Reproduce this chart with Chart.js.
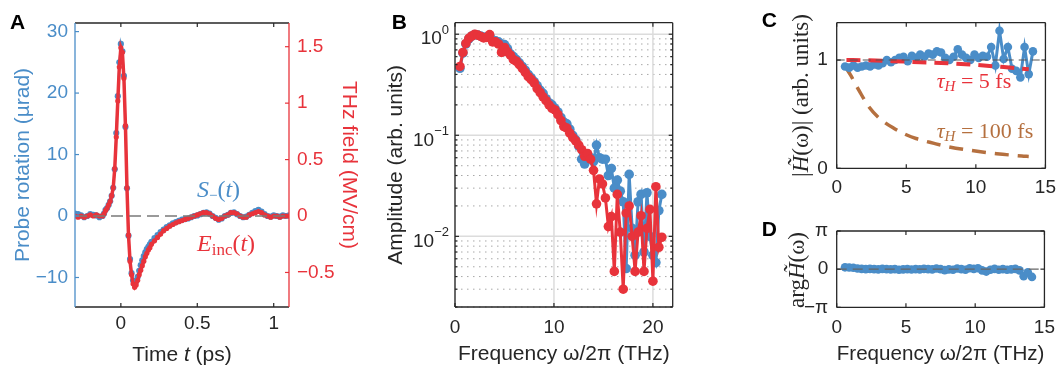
<!DOCTYPE html>
<html>
<head>
<meta charset="utf-8">
<title>THz probe response</title>
<script src="https://cdn.jsdelivr.net/npm/chart.js"></script>
<style>
body{
  margin:0;
  background:#fff;
  width:1064px;
  height:367px;
  overflow:hidden;
  position:relative;
}
canvas{position:absolute;}
</style>
</head>
<body>

<canvas id="chartA" width="372" height="367" style="left:0;top:0"></canvas>
<canvas id="chartB" width="318" height="367" style="left:372px;top:0"></canvas>
<canvas id="chartC" width="374" height="200" style="left:690px;top:0"></canvas>
<canvas id="chartD" width="374" height="167" style="left:690px;top:200px"></canvas>

<script>

// ================= DATA =================
// panel A: time trace
const timePs = [
  -0.30,-0.28,-0.26,-0.24,-0.22,-0.20,-0.18,-0.16,-0.14,
  -0.12,-0.11,-0.10,-0.09,-0.08,-0.07,-0.06,-0.05,-0.04,-0.03,-0.02,-0.01,
  0.00,0.01,0.02,0.03,0.04,0.05,0.06,0.07,0.08,0.09,0.10,
  0.11,0.12,0.13,0.14,0.15,0.16,0.17,0.18,0.19,0.20,
  0.22,0.24,0.26,0.28,0.30,0.32,0.34,0.36,0.38,0.40,
  0.42,0.44,0.46,0.48,0.50,0.52,0.54,0.56,0.58,0.60,
  0.62,0.64,0.66,0.68,0.70,0.72,0.74,0.76,0.78,0.80,
  0.82,0.84,0.86,0.88,0.90,0.92,0.94,0.96,0.98,1.00,
  1.02,1.04,1.06,1.08,1.10
];
const probeRotation = [   // µrad
  0.4,0.3,0.1,-0.2,0.0,0.3,0.2,0.1,-0.2,
  0.0,0.4,1.0,1.3,1.8,2.4,3.3,4.6,7.6,13.5,19.5,25.0,
  28.0,26.8,22.8,14.5,4.5,-3.2,-7.0,-9.3,-10.5,-11.0,-10.6,
  -9.9,-8.9,-8.0,-7.2,-6.5,-5.9,-5.4,-5.0,-4.6,-4.2,
  -3.6,-3.1,-2.6,-2.2,-1.8,-1.5,-1.2,-1.0,-0.8,-0.6,
  -0.5,-0.4,-0.2,0.0,0.1,0.3,0.5,0.6,0.4,0.0,
  -0.3,-0.6,-0.4,0.0,0.2,0.5,0.6,0.3,0.0,-0.2,
  -0.1,0.2,0.5,0.8,1.0,0.7,0.3,0.0,-0.1,0.1,
  0.0,-0.1,0.1,0.0,0.1
];
const thzField = [        // MV/cm
  0.0,-0.01,0.0,-0.01,0.0,0.01,0.0,0.01,0.0,
  0.0,0.02,0.05,0.07,0.10,0.13,0.18,0.25,0.42,0.70,1.02,1.32,
  1.49,1.45,1.22,0.80,0.25,-0.17,-0.40,-0.52,-0.60,-0.63,-0.61,
  -0.57,-0.52,-0.48,-0.44,-0.40,-0.36,-0.33,-0.30,-0.28,-0.25,
  -0.22,-0.19,-0.16,-0.13,-0.11,-0.09,-0.075,-0.06,-0.05,-0.04,
  -0.03,-0.02,-0.01,0.0,0.01,0.02,0.03,0.03,0.02,0.0,
  -0.02,-0.03,-0.02,0.0,0.01,0.03,0.03,0.02,0.0,-0.01,
  -0.01,0.01,0.02,0.03,0.04,0.03,0.01,0.0,-0.01,0.0,
  0.0,-0.01,0.0,0.0,0.0
];
const timeTicks = [0, 0.5, 1];
const rotationTicks = [-10, 0, 10, 20, 30];
const fieldTicks = [-0.5, 0, 0.5, 1, 1.5];

// panel B: spectra
const freqB = [
  0.5,0.8,1.1,1.4,1.7,2.0,2.3,2.6,2.9,3.2,
  3.5,3.8,4.1,4.4,4.7,5.0,5.3,5.6,5.9,6.2,
  6.5,6.8,7.1,7.4,7.7,8.0,8.3,8.6,8.9,9.2,
  9.5,9.8,10.1,10.4,10.7,11.0,11.3,11.6,11.9,12.2,
  12.5,12.8,13.1,13.4,13.7,14.0,14.3,14.6,14.9,15.2,
  15.5,15.8,16.1,16.4,16.7,17.0,17.3,17.6,17.9,18.2,
  18.5,18.8,19.1,19.4,19.7,20.0,20.3,20.6,20.9
];
const ampField = [
  0.48,0.66,0.81,0.91,0.96,1.0,0.98,0.95,0.92,0.93,
  0.99,0.84,0.84,0.80,0.66,0.74,0.67,0.62,0.56,0.54,
  0.50,0.46,0.42,0.38,0.355,0.33,0.29,0.265,0.24,0.22,
  0.20,0.185,0.178,0.16,0.14,0.122,0.118,0.105,0.095,0.088,
  0.08,0.072,0.062,0.066,0.058,0.045,0.021,0.037,0.033,0.024,
  0.0125,0.0157,0.0045,0.026,0.011,0.003,0.017,0.020,0.010,0.0045,
  0.011,0.016,0.0045,0.012,0.0185,0.0036,0.031,0.0078,0.0098
];
const ampProbe = [
  0.46,0.65,0.80,0.90,0.96,0.99,0.98,0.96,0.93,0.94,
  0.97,0.88,0.86,0.84,0.80,0.79,0.72,0.64,0.60,0.56,
  0.52,0.48,0.44,0.40,0.37,0.34,0.31,0.28,0.26,0.23,
  0.21,0.20,0.185,0.17,0.15,0.135,0.13,0.115,0.10,0.09,
  0.078,0.058,0.052,0.06,0.06,0.055,0.080,0.060,0.058,0.058,
  0.040,0.047,0.030,0.036,0.028,0.022,0.0048,0.041,0.012,0.0065,
  0.022,0.026,0.007,0.027,0.010,0.0065,0.0055,0.018,0.026
];
const freqTicks = [0, 10, 20];
const decadeTicks = [0.01, 0.1, 1];
const minorTicks = [
  0.002,0.003,0.004,0.005,0.006,0.007,0.008,0.009,
  0.02,0.03,0.04,0.05,0.06,0.07,0.08,0.09,
  0.2,0.3,0.4,0.5,0.6,0.7,0.8,0.9
];

// panels C, D: transfer function
const freqC = [
  0.6,0.9,1.2,1.5,1.8,2.1,2.4,2.7,3.0,3.3,
  3.6,3.9,4.2,4.5,4.8,5.1,5.4,5.7,6.0,6.3,
  6.6,6.9,7.2,7.5,7.8,8.1,8.4,8.7,9.0,9.3,
  9.6,9.9,10.2,10.5,10.8,11.1,11.4,11.7,12.0,12.3,
  12.6,12.9,13.2,13.5,13.8,14.1
];
const magH = [
  0.94,0.93,0.95,0.93,0.94,0.95,0.94,0.96,0.95,0.97,
  1.00,0.98,1.00,1.02,1.03,0.99,1.04,1.02,1.05,1.03,
  1.06,1.05,1.08,1.07,1.02,1.00,1.03,1.10,1.05,1.02,
  1.00,1.05,1.02,1.04,1.03,1.12,0.95,1.27,1.01,1.12,
  0.92,0.90,0.84,1.12,0.87,1.08
];
const phaseH = [   // rad
  0.15,0.14,0.12,0.05,0.02,0.0,0.02,0.0,-0.02,0.02,
  0.0,-0.02,0.0,-0.05,-0.02,0.0,-0.03,0.0,-0.02,0.02,
  0.0,-0.02,0.05,0.0,-0.08,-0.02,-0.05,0.05,0.0,-0.05,
  0.08,0.02,0.08,-0.1,-0.2,-0.05,0.02,-0.05,0.0,-0.05,
  -0.02,0.02,-0.1,-0.58,-0.25,-0.64
];
const freqTau5 = [0.7, 2, 4, 6, 8, 10, 12, 13.8];
const hTau5 = [1.0, 0.998, 0.99, 0.98, 0.97, 0.955, 0.935, 0.915];
const freqTau100 = [0.64, 1.0, 1.6, 2.3, 3.0, 4.1, 5.0, 5.7, 7.0, 7.8, 9.6, 11.5, 13.3, 13.8];
const hTau100 = [0.935, 0.86, 0.72, 0.57, 0.47, 0.37, 0.31, 0.275, 0.23, 0.205, 0.166, 0.135, 0.114, 0.11];
const freqTicksC = [0, 5, 10, 15];
const magTicks = [0, 1];
const phaseTicks = [-Math.PI, 0, Math.PI];

// ================= STYLE =================
const BLUE = '#4a8dc8';
const RED = '#e8333b';
const BROWN = '#b5703f';
const INK = '#262626';
const SANS = '"Liberation Sans", Arial, Helvetica, sans-serif';
const SERIF = '"Liberation Serif", "DejaVu Serif", serif';

Chart.defaults.font.family = SANS;
Chart.defaults.font.size = 19;
Chart.defaults.color = INK;
Chart.defaults.animation = false;
Chart.defaults.events = [];
Chart.defaults.plugins.legend.display = false;
Chart.defaults.plugins.tooltip.enabled = false;

// ================= HELPERS =================
function pairs(xs, ys){ return xs.map((x,i)=>({x:x, y:ys[i]})); }
function fmt(v){ return String(v).replace('-', '\u2212'); }
function fixTicks(values){ return s => { s.ticks = values.map(v=>({value:v})); }; }
function fixW(w){ return s => { s.width = w; }; }
function fixH(h){ return s => { s.height = h; }; }

function richText(ctx, t){
  ctx.save();
  ctx.translate(t.x, t.y);
  if (t.rot) ctx.rotate(t.rot);
  ctx.textBaseline = 'middle';
  ctx.textAlign = 'left';
  let w = 0;
  t.parts.forEach(p => { ctx.font = p.f; p.w = ctx.measureText(p.t).width; w += p.w; });
  let cx = t.align === 'center' ? -w/2 : (t.align === 'right' ? -w : 0);
  t.parts.forEach(p => {
    ctx.font = p.f;
    ctx.fillStyle = p.c || INK;
    ctx.fillText(p.t, cx, p.dy || 0);
    cx += p.w;
  });
  ctx.restore();
}

function hScale(min, max, ticks, pad, height){
  return {
    type:'linear', min:min, max:max,
    grid:{display:false, drawTicks:false}, border:{display:false},
    ticks:{padding:pad, maxRotation:0, autoSkip:false, color:INK, callback:v=>fmt(v)},
    afterBuildTicks: fixTicks(ticks), afterFit: fixH(height)
  };
}

// ================= FRAME PLUGIN =================
const framePlugin = {
  id:'frame',
  beforeDatasetsDraw(chart, args, o){
    const {ctx, chartArea:a} = chart;
    (o.grid || []).forEach(g => {
      const s = chart.scales[g.axis];
      ctx.save();
      ctx.strokeStyle = g.color; ctx.lineWidth = g.width; ctx.setLineDash(g.dash || []);
      g.values.forEach(v => {
        const p = s.getPixelForValue(v);
        ctx.beginPath();
        if (s.isHorizontal()){ ctx.moveTo(p, a.top); ctx.lineTo(p, a.bottom); }
        else { ctx.moveTo(a.left, p); ctx.lineTo(a.right, p); }
        ctx.stroke();
      });
      ctx.restore();
    });
  },
  afterDatasetsDraw(chart, args, o){
    const {ctx, chartArea:a} = chart;
    ctx.save();
    // reference lines
    (o.refs || []).forEach(r => {
      const s = chart.scales[r.axis];
      const p = s.getPixelForValue(r.value);
      ctx.strokeStyle = r.color; ctx.lineWidth = r.width; ctx.setLineDash(r.dash);
      ctx.beginPath(); ctx.moveTo(a.left, p); ctx.lineTo(a.right, p); ctx.stroke();
    });
    ctx.setLineDash([]);
    // box
    const b = o.box;
    ctx.lineWidth = 1.3;
    const seg = (c, x1, y1, x2, y2) => {
      ctx.strokeStyle = c; ctx.beginPath(); ctx.moveTo(x1, y1); ctx.lineTo(x2, y2); ctx.stroke();
    };
    seg(b.top, a.left, a.top, a.right, a.top);
    seg(b.bottom, a.left, a.bottom, a.right, a.bottom);
    seg(b.left, a.left, a.top, a.left, a.bottom);
    seg(b.right, a.right, a.top, a.right, a.bottom);
    // inward ticks
    ctx.lineWidth = 1.2;
    (o.ticks || []).forEach(t => {
      const s = chart.scales[t.axis];
      ctx.strokeStyle = t.color;
      t.values.forEach(v => {
        const p = s.getPixelForValue(v);
        t.sides.forEach(side => {
          ctx.beginPath();
          if (side === 'bottom'){ ctx.moveTo(p, a.bottom); ctx.lineTo(p, a.bottom - t.len); }
          if (side === 'top'){ ctx.moveTo(p, a.top); ctx.lineTo(p, a.top + t.len); }
          if (side === 'left'){ ctx.moveTo(a.left, p); ctx.lineTo(a.left + t.len, p); }
          if (side === 'right'){ ctx.moveTo(a.right, p); ctx.lineTo(a.right - t.len, p); }
          ctx.stroke();
        });
      });
    });
    ctx.restore();
  },
  afterDraw(chart, args, o){
    const {ctx, chartArea:a} = chart;
    (o.texts || []).forEach(t => richText(ctx, t));
    if (o.logLabels){
      const s = chart.scales[o.logLabels.axis];
      o.logLabels.values.forEach(v => {
        const p = s.getPixelForValue(v);
        richText(ctx, {x:a.left - 6, y:p, align:'right', parts:[
          {t:'10', f:'19px ' + SANS, dy:5},
          {t:fmt(Math.round(Math.log10(v))), f:'13px ' + SANS, dy:-4}
        ]});
      });
    }
  }
};
Chart.register(framePlugin);

// ================= PANEL A =================
new Chart(document.getElementById('chartA'), {
  type:'line',
  data:{ datasets:[
    { data:pairs(timePs, thzField), yAxisID:'y1', borderColor:RED, borderWidth:3.5,
      pointRadius:2.6, pointBorderWidth:0, pointBackgroundColor:RED },
    { data:pairs(timePs, probeRotation), yAxisID:'y', borderColor:BLUE, borderWidth:2,
      pointRadius:3.1, pointBorderWidth:0, pointBackgroundColor:BLUE }
  ]},
  options:{
    responsive:false,
    layout:{ padding:{top:23, left:0, right:0, bottom:0} },
    scales:{
      x: hScale(-0.3, 1.1, timeTicks, 5, 60),
      y:{ type:'linear', position:'left', min:-14.8, max:31.4,
          grid:{display:false, drawTicks:false}, border:{display:false},
          ticks:{padding:7, color:BLUE, callback:v=>fmt(v)},
          title:{display:true, text:'Probe rotation (µrad)', color:BLUE, font:{size:21}, padding:{top:11, bottom:0}},
          afterBuildTicks:fixTicks(rotationTicks), afterFit:fixW(75) },
      y1:{ type:'linear', position:'right', min:-0.806, max:1.71,
          grid:{display:false, drawTicks:false}, border:{display:false},
          ticks:{padding:8, color:RED, callback:v=>fmt(v)},
          title:{display:true, text:'THz field (MV/cm)', color:RED, font:{size:21}, padding:{top:11, bottom:0}},
          afterBuildTicks:fixTicks(fieldTicks), afterFit:fixW(83) }
    },
    plugins:{ frame:{
      refs:[{axis:'y', value:0, color:'#7a7a7a', width:1.5, dash:[12,6]}],
      box:{top:INK, bottom:INK, left:BLUE, right:RED},
      ticks:[
        {axis:'x', values:timeTicks, sides:['bottom','top'], len:4, color:INK},
        {axis:'y', values:rotationTicks, sides:['left'], len:4, color:BLUE},
        {axis:'y1', values:fieldTicks, sides:['right'], len:4, color:RED}
      ],
      texts:[
        {x:10, y:23, parts:[{t:'A', f:'bold 21px ' + SANS, c:'#000'}]},
        {x:182, y:355, align:'center', parts:[
          {t:'Time ', f:'21px ' + SANS}, {t:'t', f:'italic 21px ' + SANS}, {t:' (ps)', f:'21px ' + SANS}]},
        {x:197, y:191, parts:[
          {t:'S', f:'italic 24px ' + SERIF, c:BLUE}, {t:'\u2212', f:'15px ' + SERIF, c:BLUE, dy:5},
          {t:'(', f:'24px ' + SERIF, c:BLUE}, {t:'t', f:'italic 24px ' + SERIF, c:BLUE},
          {t:')', f:'24px ' + SERIF, c:BLUE}]},
        {x:197, y:245, parts:[
          {t:'E', f:'italic 24px ' + SERIF, c:RED}, {t:'inc', f:'17px ' + SERIF, c:RED, dy:6},
          {t:'(', f:'24px ' + SERIF, c:RED}, {t:'t', f:'italic 24px ' + SERIF, c:RED},
          {t:')', f:'24px ' + SERIF, c:RED}]}
      ]
    }}
  }
});

// ================= PANEL B =================
new Chart(document.getElementById('chartB'), {
  type:'line',
  data:{ datasets:[
    { data:pairs(freqB, ampField), borderColor:RED, borderWidth:3,
      pointRadius:4.8, pointBorderWidth:0, pointBackgroundColor:RED },
    { data:pairs(freqB, ampProbe), borderColor:BLUE, borderWidth:3,
      pointRadius:4.8, pointBorderWidth:0, pointBackgroundColor:BLUE }
  ]},
  options:{
    responsive:false,
    layout:{ padding:{top:22.7, left:0, right:17.3, bottom:0} },
    scales:{
      x: Object.assign(hScale(0, 22, freqTicks, 9, 60),
           {title:{display:true, text:'Frequency \u03c9/2\u03c0 (THz)', font:{size:21}, padding:{top:0, bottom:0}}}),
      y:{ type:'logarithmic', position:'left', min:0.002, max:1.3,
          grid:{display:false, drawTicks:false}, border:{display:false},
          ticks:{display:false},
          title:{display:true, text:'Amplitude (arb. units)', font:{size:21}, padding:{top:12, bottom:0}},
          afterBuildTicks:fixTicks(decadeTicks), afterFit:fixW(83) }
    },
    plugins:{ frame:{
      grid:[
        {axis:'y', values:minorTicks, color:'#a8a8a8', width:1, dash:[1.5,4.5]},
        {axis:'y', values:decadeTicks, color:'#dcdcdc', width:1.5},
        {axis:'x', values:freqTicks, color:'#dcdcdc', width:1.5}
      ],
      box:{top:INK, bottom:INK, left:INK, right:INK},
      ticks:[
        {axis:'x', values:freqTicks, sides:['bottom','top'], len:4, color:INK},
        {axis:'y', values:decadeTicks, sides:['left','right'], len:4, color:INK},
        {axis:'y', values:minorTicks, sides:['left','right'], len:2.5, color:INK}
      ],
      logLabels:{axis:'y', values:decadeTicks},
      texts:[
        {x:19.7, y:23, parts:[{t:'B', f:'bold 21px ' + SANS, c:'#000'}]}
      ]
    }}
  }
});

// ================= PANEL C =================
new Chart(document.getElementById('chartC'), {
  type:'line',
  data:{ datasets:[
    { data:pairs(freqTau5, hTau5), borderColor:RED, borderWidth:4, borderDash:[14,8],
      pointRadius:0, cubicInterpolationMode:'monotone' },
    { data:pairs(freqC, magH), borderColor:BLUE, borderWidth:3,
      pointRadius:4.3, pointBorderWidth:0, pointBackgroundColor:BLUE },
    { data:pairs(freqTau100, hTau100), borderColor:BROWN, borderWidth:3.5, borderDash:[14,9],
      pointRadius:0, cubicInterpolationMode:'monotone' }
  ]},
  options:{
    responsive:false,
    layout:{ padding:{top:22.7, left:0, right:11.7, bottom:0} },
    scales:{
      x: hScale(0, 15, freqTicksC, 8, 31.7),
      y:{ type:'linear', position:'left', min:0, max:1.345,
          grid:{display:false, drawTicks:false}, border:{display:false},
          ticks:{padding:9, callback:v=>fmt(v)},
          afterBuildTicks:fixTicks(magTicks), afterFit:fixW(146.7) }
    },
    plugins:{ frame:{
      refs:[{axis:'y', value:1, color:'#555', width:1.1, dash:[8,5]}],
      box:{top:INK, bottom:INK, left:INK, right:INK},
      ticks:[
        {axis:'x', values:freqTicksC, sides:['bottom','top'], len:4, color:INK},
        {axis:'y', values:magTicks, sides:['left','right'], len:4, color:INK}
      ],
      texts:[
        {x:71.7, y:21, parts:[{t:'C', f:'bold 21px ' + SANS, c:'#000'}]},
        {x:111.7, y:95.5, rot:-Math.PI/2, align:'center', parts:[
          {t:'|', f:'23px ' + SERIF}, {t:'H\u0303', f:'italic 23px ' + SERIF},
          {t:'(\u03c9)| (arb. units)', f:'23px ' + SERIF}]},
        {x:246.7, y:82, parts:[
          {t:'\u03c4', f:'italic 22px ' + SERIF, c:RED}, {t:'H', f:'italic 15px ' + SERIF, c:RED, dy:5},
          {t:' = 5 fs', f:'22px ' + SERIF, c:RED}]},
        {x:246.7, y:132, parts:[
          {t:'\u03c4', f:'italic 22px ' + SERIF, c:BROWN}, {t:'H', f:'italic 15px ' + SERIF, c:BROWN, dy:5},
          {t:' = 100 fs', f:'22px ' + SERIF, c:BROWN}]}
      ]
    }}
  }
});

// ================= PANEL D =================
new Chart(document.getElementById('chartD'), {
  type:'line',
  data:{ datasets:[
    { data:pairs(freqC, phaseH), borderColor:BLUE, borderWidth:3,
      pointRadius:4.3, pointBorderWidth:0, pointBackgroundColor:BLUE }
  ]},
  options:{
    responsive:false,
    layout:{ padding:{top:31, left:0, right:11.7, bottom:0} },
    scales:{
      x: Object.assign(hScale(0, 15, freqTicksC, 9, 59.7),
           {title:{display:true, text:'Frequency \u03c9/2\u03c0 (THz)', font:{size:21}, padding:{top:0, bottom:0}}}),
      y:{ type:'linear', position:'left', min:-Math.PI, max:Math.PI,
          grid:{display:false, drawTicks:false}, border:{display:false},
          ticks:{padding:8.5, callback:v => v > 0.1 ? '\u03c0' : (v < -0.1 ? '\u2212\u03c0' : '0')},
          afterBuildTicks:fixTicks(phaseTicks), afterFit:fixW(146.7) }
    },
    plugins:{ frame:{
      refs:[{axis:'y', value:0, color:'#666', width:1.3, dash:[10,6]}],
      box:{top:INK, bottom:INK, left:INK, right:INK},
      ticks:[
        {axis:'x', values:freqTicksC, sides:['bottom','top'], len:4, color:INK},
        {axis:'y', values:phaseTicks, sides:['left','right'], len:4, color:INK}
      ],
      texts:[
        {x:71.7, y:30.5, parts:[{t:'D', f:'bold 21px ' + SANS, c:'#000'}]},
        {x:108, y:70, rot:-Math.PI/2, align:'center', parts:[
          {t:'arg', f:'23px ' + SERIF}, {t:'H\u0303', f:'italic 23px ' + SERIF},
          {t:'(\u03c9)', f:'23px ' + SERIF}]}
      ]
    }}
  }
});

</script>
</body>
</html>
